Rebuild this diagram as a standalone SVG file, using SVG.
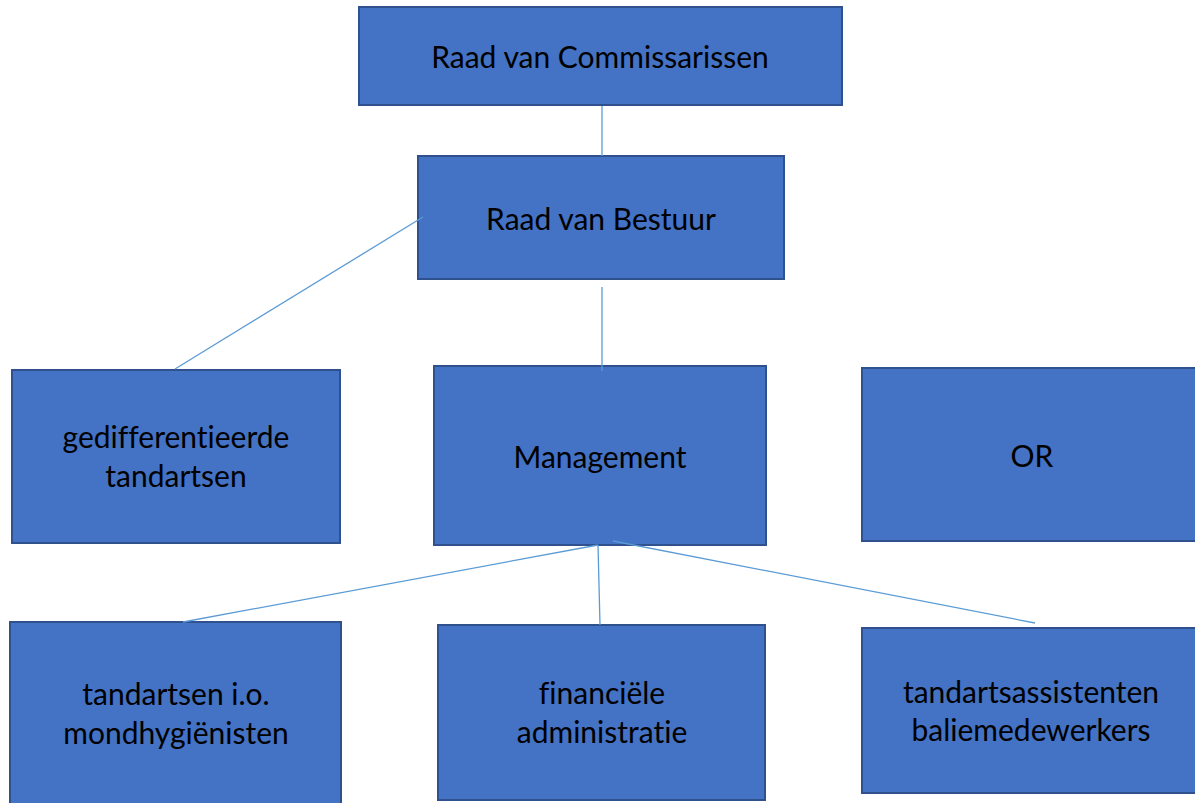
<svg xmlns="http://www.w3.org/2000/svg" width="1195" height="803" viewBox="0 0 1195 803">
<style>
.box{fill:#4472C4;stroke:#2F528F;stroke-width:2}
.lbl{font-family:Lato,"Liberation Sans",sans-serif;font-size:30px;fill:#000;text-anchor:middle;font-variant-ligatures:none;font-feature-settings:"liga" 0}
.con{stroke:#5B9BD5;stroke-width:1.3;fill:none}
</style>
<rect width="1195" height="803" fill="#fff"/>
<g id="n-rvc">
<rect class="box" x="359" y="7" width="483" height="98"/>
<text class="lbl" x="600" y="68">Raad van Commissarissen</text>
</g>
<g id="n-rvb">
<rect class="box" x="418" y="156" width="366" height="123"/>
<text class="lbl" x="601" y="230">Raad van Bestuur</text>
</g>
<g id="n-ged">
<rect class="box" x="12" y="370" width="328" height="173"/>
<text class="lbl" x="176" y="448">gedifferentieerde</text>
<text class="lbl" x="176" y="487">tandartsen</text>
</g>
<g id="n-man">
<rect class="box" x="434" y="366" width="332" height="179"/>
<text class="lbl" x="600" y="468">Management</text>
</g>
<g id="n-or">
<rect class="box" x="862" y="368" width="336" height="173"/>
<text class="lbl" x="1032" y="467">OR</text>
</g>
<g id="n-tio">
<rect class="box" x="10" y="622" width="331" height="185"/>
<text class="lbl" x="176" y="705">tandartsen i.o.</text>
<text class="lbl" x="176" y="744">mondhygiënisten</text>
</g>
<g id="n-fin">
<rect class="box" x="438" y="625" width="327" height="175"/>
<text class="lbl" x="602" y="704">financiële</text>
<text class="lbl" x="602" y="743">administratie</text>
</g>
<g id="n-tas">
<rect class="box" x="862" y="628" width="336" height="165"/>
<text class="lbl" x="1031" y="703">tandartsassistenten</text>
<text class="lbl" x="1031" y="741">baliemedewerkers</text>
</g>
<g id="connectors">
<line class="con" x1="602" y1="106" x2="602" y2="156"/>
<line class="con" x1="423" y1="217" x2="175" y2="369"/>
<line class="con" x1="602" y1="287" x2="602" y2="371"/>
<line class="con" x1="598" y1="545" x2="183" y2="622"/>
<line class="con" x1="598" y1="545" x2="600" y2="625"/>
<line class="con" x1="613" y1="541" x2="1035" y2="623"/>
</g>
</svg>
